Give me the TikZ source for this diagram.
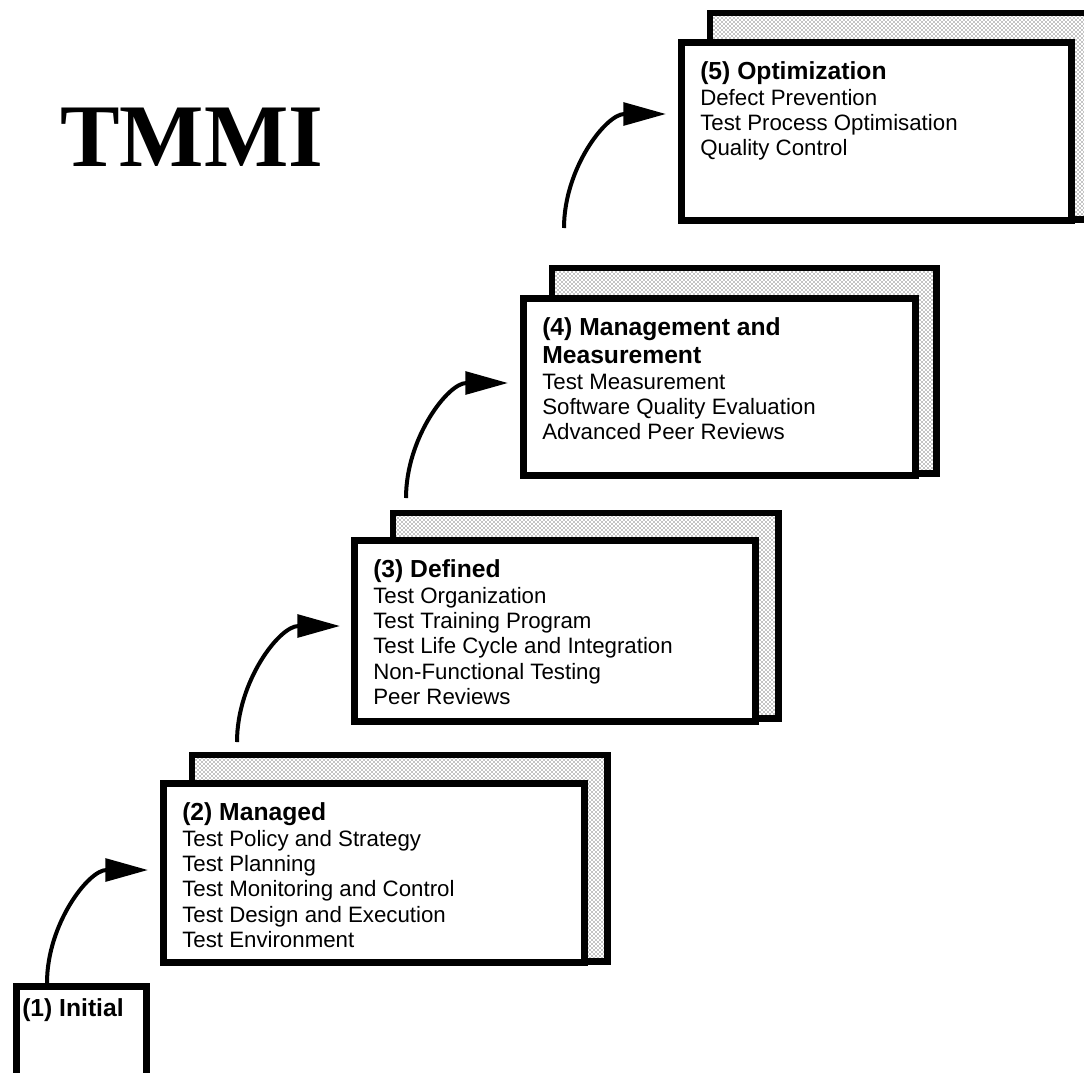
\documentclass[tikz,border=0pt]{standalone}
\usepackage{fontspec}
\setmainfont{Liberation Sans}
\newfontfamily\headfont{Liberation Serif}
\usetikzlibrary{backgrounds,calc,patterns,arrows.meta}
\tikzset{>={Triangle[length=32pt,width=17pt]}}
\tikzset{
    levelbox/.style={draw, line width=5pt, fill=white, anchor=north west, inner sep=0pt},
    leveltext/.style={anchor=north west, align=left, inner xsep=16.5pt, inner ysep=17pt,
        font=\fontsize{16.7}{19}\selectfont},
    shadowbox/.style={draw, line width=5pt, pattern=crosshatch dots, pattern color=black},
    stepline/.style={->, line width=3pt},
}
\newcommand{\lvl}[1]{{\bfseries\fontsize{18.5}{19}\selectfont #1}}

\begin{document}
\begin{tikzpicture}[x=0.75pt, y=-0.75pt]

    \useasboundingbox (0,0) rectangle (1084,1072);

    \node[font=\headfont\bfseries\fontsize{67}{67}\selectfont, anchor=base west, inner sep=0] (tmmi) at (60,166) {TMMI};

    % levels
    \node[levelbox, minimum width=97.5pt, minimum height=90pt] (L1) at (13,983) {};
    \node[leveltext, inner xsep=6.75pt, inner ysep=11.25pt] (T1) at (L1.north west) {\lvl{(1) Initial}};

    \node[levelbox, minimum width=315.75pt, minimum height=134.25pt] (L2) at (160,780) {};
    \node[leveltext] (T2) at (L2.north west)
        {\lvl{(2) Managed}\\ Test Policy and Strategy\\ Test Planning\\ Test Monitoring and Control\\ Test Design and Execution\\ Test Environment};

    \node[levelbox, minimum width=300.75pt, minimum height=135.75pt] (L3) at (351,537) {};
    \node[leveltext] (T3) at (L3.north west)
        {\lvl{(3) Defined}\\ Test Organization\\ Test Training Program\\ Test Life Cycle and Integration\\ Non-Functional Testing\\ Peer Reviews};

    \node[levelbox, minimum width=294pt, minimum height=132.75pt] (L4) at (520,295) {};
    \node[leveltext] (T4) at (L4.north west)
        {\lvl{(4) Management and}\\[2pt] \lvl{Measurement}\\ Test Measurement\\ Software Quality Evaluation\\ Advanced Peer Reviews};

    \node[levelbox, minimum width=292.5pt, minimum height=133.5pt] (L5) at (678,39) {};
    \node[leveltext] (T5) at (L5.north west)
        {\lvl{(5) Optimization}\\ Defect Prevention\\ Test Process Optimisation\\ Quality Control};

    % shadow copies behind
    \begin{scope}[on background layer]
        \draw[shadowbox] ($(L2.north west)+(32,-25)$) rectangle ($(L2.south east)+(20,-4)$);
        \draw[shadowbox] ($(L3.north west)+(42,-24)$) rectangle ($(L3.south east)+(20,-6)$);
        \draw[shadowbox] ($(L4.north west)+(32,-27)$) rectangle ($(L4.south east)+(18,-5)$);
        \draw[shadowbox] ($(L5.north west)+(32,-26)$) rectangle ($(L5.south east)+(22,-4)$);
    \end{scope}

    % steps
    \coordinate (s1) at ($(L1.north west)+(34,0)$);
    \coordinate (s2) at (237,742);
    \coordinate (s3) at (406,498);
    \coordinate (s4) at (564,228);
    \coordinate (t2) at ($(L2.north west)+(-12,90)$);
    \coordinate (t3) at ($(L3.north west)+(-11,89)$);
    \coordinate (t4) at ($(L4.north west)+(-12,88)$);
    \coordinate (t5) at ($(L5.north west)+(-12,75)$);

    \draw[stepline] (s1) to[out=90, in=180] (t2);
    \draw[stepline] (s2) to[out=90, in=180] (t3);
    \draw[stepline] (s3) to[out=90, in=180] (t4);
    \draw[stepline] (s4) to[out=90, in=180] (t5);

\end{tikzpicture}
\end{document}
